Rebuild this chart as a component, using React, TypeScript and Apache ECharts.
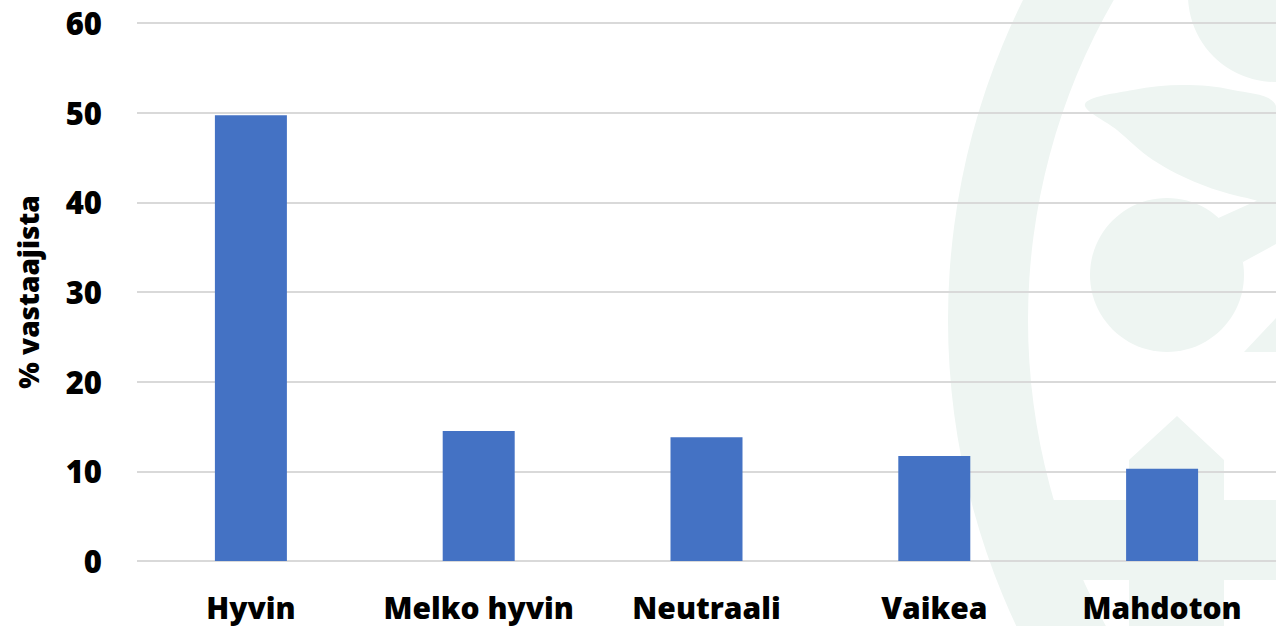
import React, { useEffect, useRef } from "react";
import * as echarts from "echarts";

const categories = ["Hyvin", "Melko hyvin", "Neutraali", "Vaikea", "Mahdoton"];
const values = [49.7, 14.5, 13.8, 11.7, 10.3];
const yTicks = { min: 0, max: 60, interval: 10 };
const yName = "% vastaajista";

const WM = "#eef5f2";
const FONT = "'Open Sans', 'Noto Sans', sans-serif";

export default function App() {
  const ref = useRef<HTMLDivElement>(null);
  useEffect(() => {
    document.body.style.margin = "0";
    const chart = echarts.init(ref.current!, null, { renderer: "svg" });
    const wm = { fill: WM };
    chart.setOption({
      animation: false,
      backgroundColor: "#ffffff",
      graphic: [
        { type: "ring", z: -100, shape: { cx: 1668, cy: 320, r: 720, r0: 640 }, style: wm, silent: true },
        { type: "circle", z: -100, shape: { cx: 1167, cy: 275, r: 77 }, style: wm, silent: true },
        { type: "circle", z: -100, shape: { cx: 1275, cy: -5, r: 87 }, style: wm, silent: true },
        {
          type: "polygon", z: -100, silent: true, style: wm,
          shape: {
            smooth: 0.35,
            points: [[1085, 104], [1133, 90], [1183, 85], [1233, 90], [1276, 106], [1276, 200], [1247, 198], [1200, 184], [1153, 160], [1117, 130]],
          },
        },
        {
          type: "polygon", z: -100, silent: true, style: wm,
          shape: { points: [[1214, 220], [1276, 192], [1276, 244], [1243, 262]] },
        },
        {
          type: "polygon", z: -100, silent: true, style: wm,
          shape: { points: [[1244, 352], [1276, 318], [1276, 352]] },
        },
        {
          type: "polygon", z: -100, silent: true, style: wm,
          shape: {
            points: [[1053, 500], [1129, 500], [1129, 460], [1177, 416], [1224, 460], [1224, 500], [1276, 500], [1276, 580], [1224, 580], [1224, 626], [1129, 626], [1129, 580], [1053, 580]],
          },
        },
      ],
      grid: { left: 137, right: 0, top: 23, bottom: 65, containLabel: false },
      xAxis: {
        type: "category",
        data: categories,
        axisLine: { show: false },
        axisTick: { show: false },
        axisLabel: { interval: 0, fontFamily: FONT, fontWeight: 800, fontSize: 30, color: "#000", margin: 31 },
      },
      yAxis: {
        type: "value",
        min: yTicks.min,
        max: yTicks.max,
        interval: yTicks.interval,
        name: yName,
        nameLocation: "middle",
        nameGap: 95,
        nameRotate: 90,
        nameTextStyle: { fontFamily: FONT, fontWeight: 800, fontSize: 28, color: "#000" },
        axisLine: { show: false },
        axisTick: { show: false },
        axisLabel: { fontFamily: FONT, fontWeight: 800, fontSize: 31, color: "#000", margin: 35 },
        splitLine: { lineStyle: { color: "#d9d9d9", width: 2 } },
      },
      series: [
        {
          type: "bar",
          data: values,
          barWidth: 72,
          itemStyle: { color: "#4472c4" },
        },
      ],
    });
    return () => chart.dispose();
  }, []);
  return <div ref={ref} style={{ width: 1276, height: 626 }} />;
}
